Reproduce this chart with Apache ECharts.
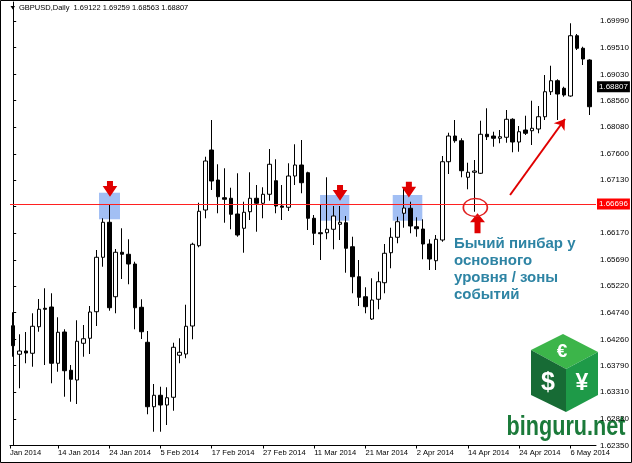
<!DOCTYPE html>
<html>
<head>
<meta charset="utf-8">
<script src="https://cdn.jsdelivr.net/npm/echarts@6/dist/echarts.min.js"></script>
<style>
html,body{margin:0;padding:0;background:#fff;}
#chart{width:632px;height:463px;}
</style>
</head>
<body>
<div id="chart"></div>
<script>
// ---- data ----
const dates = [
 '3 Jan 2014','6 Jan 2014','7 Jan 2014','8 Jan 2014','9 Jan 2014','10 Jan 2014','13 Jan 2014','14 Jan 2014','15 Jan 2014','16 Jan 2014',
 '17 Jan 2014','20 Jan 2014','21 Jan 2014','22 Jan 2014','23 Jan 2014','24 Jan 2014','27 Jan 2014','28 Jan 2014','29 Jan 2014','30 Jan 2014',
 '31 Jan 2014','3 Feb 2014','4 Feb 2014','5 Feb 2014','6 Feb 2014','7 Feb 2014','10 Feb 2014','11 Feb 2014','12 Feb 2014','13 Feb 2014',
 '14 Feb 2014','17 Feb 2014','18 Feb 2014','19 Feb 2014','20 Feb 2014','21 Feb 2014','24 Feb 2014','25 Feb 2014','26 Feb 2014','27 Feb 2014',
 '28 Feb 2014','3 Mar 2014','4 Mar 2014','5 Mar 2014','6 Mar 2014','7 Mar 2014','10 Mar 2014','11 Mar 2014','12 Mar 2014','13 Mar 2014',
 '14 Mar 2014','17 Mar 2014','18 Mar 2014','19 Mar 2014','20 Mar 2014','21 Mar 2014','24 Mar 2014','25 Mar 2014','26 Mar 2014','27 Mar 2014',
 '28 Mar 2014','31 Mar 2014','1 Apr 2014','2 Apr 2014','3 Apr 2014','4 Apr 2014','7 Apr 2014','8 Apr 2014','9 Apr 2014','10 Apr 2014',
 '11 Apr 2014','14 Apr 2014','15 Apr 2014','16 Apr 2014','17 Apr 2014','18 Apr 2014','21 Apr 2014','22 Apr 2014','23 Apr 2014','24 Apr 2014',
 '25 Apr 2014','28 Apr 2014','29 Apr 2014','30 Apr 2014','1 May 2014','2 May 2014','5 May 2014','6 May 2014','7 May 2014','8 May 2014',
 '9 May 2014'
];
const opens = [
 1.64505,1.63991,1.64050,1.64009,1.64487,1.64819,1.64842,1.63829,1.64392,1.63703,
 1.63528,1.64189,1.64279,1.64757,1.65737,1.66367,1.65027,1.65827,1.65791,1.65616,
 1.64837,1.64207,1.63047,1.63253,1.63078,1.63217,1.63973,1.63996,1.64500,1.65945,
 1.66588,1.67668,1.67128,1.66809,1.66799,1.66516,1.66259,1.66557,1.66799,1.66709,
 1.66871,1.67115,1.66660,1.66637,1.67200,1.67398,1.67259,1.66439,1.66179,1.66179,
 1.66241,1.66331,1.66359,1.65927,1.65387,1.65027,1.64626,1.64981,1.65279,1.65819,
 1.66097,1.66529,1.66619,1.66287,1.66246,1.65976,1.65675,1.66048,1.67457,1.67920,
 1.67835,1.67177,1.67267,1.67249,1.67951,1.67920,1.67879,1.67897,1.68221,1.67812,
 1.68028,1.68015,1.68046,1.68267,1.68717,1.68915,1.68779,1.68640,1.69725,1.69499,
 1.69288
];
const closes = [
 1.64145,1.64050,1.64014,1.64495,1.64801,1.64801,1.63829,1.64387,1.63695,1.63541,
 1.64225,1.64271,1.64752,1.65737,1.66367,1.64829,1.65827,1.65791,1.65616,1.64829,
 1.64397,1.63047,1.63253,1.63078,1.63209,1.64117,1.64027,1.64495,1.65971,1.66565,
 1.67470,1.67110,1.66827,1.66781,1.66511,1.66138,1.66547,1.66799,1.66709,1.66871,
 1.67411,1.66660,1.66637,1.67200,1.67398,1.67079,1.66439,1.66169,1.66161,1.66241,
 1.66480,1.66367,1.65899,1.65387,1.65017,1.64847,1.64968,1.65297,1.65809,1.66097,
 1.66377,1.66624,1.66300,1.66251,1.65976,1.65706,1.66061,1.67457,1.67920,1.67835,
 1.67295,1.67267,1.67290,1.67951,1.67907,1.67879,1.67907,1.68221,1.67812,1.67997,
 1.67969,1.68059,1.68267,1.68717,1.68915,1.68676,1.68658,1.69725,1.69499,1.69306,
 1.68447
];
const lows = [
 1.63947,1.63379,1.63829,1.63767,1.64397,1.63798,1.63469,1.63677,1.63227,1.63137,
 1.63096,1.63947,1.63996,1.64500,1.65567,1.64775,1.64729,1.65346,1.65251,1.64441,
 1.64266,1.62911,1.62597,1.62597,1.62718,1.62975,1.63829,1.63919,1.64261,1.65917,
 1.66439,1.66948,1.66529,1.66359,1.66241,1.66107,1.65819,1.66408,1.66197,1.66439,
 1.66755,1.66529,1.66408,1.66570,1.67038,1.66889,1.66228,1.65958,1.65688,1.66061,
 1.65881,1.66048,1.65459,1.65089,1.64860,1.64729,1.64608,1.64801,1.65089,1.65539,
 1.65989,1.66269,1.66169,1.66107,1.65701,1.65508,1.65508,1.66017,1.67236,1.67799,
 1.67177,1.66961,1.66557,1.67236,1.67848,1.67727,1.67789,1.67799,1.67627,1.67637,
 1.67938,1.67758,1.67969,1.68208,1.68658,1.68208,1.68627,1.68627,1.69468,1.69198,
 1.68298
];
const highs = [
 1.64747,1.64351,1.64392,1.64729,1.64986,1.65179,1.65089,1.64657,1.64441,1.63798,
 1.64603,1.64518,1.64860,1.65868,1.66439,1.66696,1.65886,1.66259,1.66061,1.65657,
 1.64981,1.64410,1.63456,1.63407,1.63397,1.64199,1.64279,1.64883,1.65999,1.66719,
 1.67547,1.68208,1.67411,1.67339,1.66989,1.67249,1.66737,1.67267,1.67038,1.66997,
 1.67686,1.67501,1.67038,1.67429,1.67771,1.67848,1.67277,1.66498,1.66691,1.67177,
 1.66660,1.66660,1.66480,1.66107,1.65688,1.65197,1.65359,1.65477,1.65976,1.66269,
 1.66467,1.66997,1.66737,1.66457,1.66421,1.66061,1.66138,1.67560,1.67979,1.68208,
 1.67879,1.67439,1.67488,1.68195,1.68419,1.67997,1.68028,1.68388,1.68239,1.68100,
 1.68285,1.68555,1.68460,1.69018,1.69185,1.68941,1.68807,1.69949,1.69756,1.69527,
 1.69301
];
const yTickValues = [1.62350,1.62830,1.63310,1.63790,1.64260,1.64740,1.65220,1.65690,1.66170,
  1.66650,1.67130,1.67600,1.68080,1.68560,1.69030,1.69510,1.69990];
const xLabelDates = ['14 Jan 2014','24 Jan 2014','5 Feb 2014','17 Feb 2014','27 Feb 2014','11 Mar 2014',
  '21 Mar 2014','2 Apr 2014','14 Apr 2014','24 Apr 2014','6 May 2014'];
const firstXLabel = 'Jan 2014';
const titleText = 'GBPUSD,Daily  1.69122 1.69259 1.68563 1.68807';
const levelPrice = 1.66696;
const bidPrice = 1.68807;
const noteLines = ['Бычий пинбар у', 'основного', 'уровня / зоны', 'событий'];
// annotation anchors in data units: [bar index, price]
const zoneBoxes = [
  [[13.4, 1.66899], [16.68, 1.66421]],
  [[47.91, 1.66858], [52.48, 1.66395]],
  [[59.26, 1.66858], [63.88, 1.66395]]
];
const downArrows = [[15.11, 1.66969], [51.03, 1.66897], [61.78, 1.66953]];
const upArrow = [72.5, 1.66349];
const pinCircle = [72.16, 1.66633];
const trendArrow = [[77.58, 1.66858], [86.16, 1.68226]];

// ---- chart ----
const xMin = -0.5, xMax = 91;
const yMin = 1.62349, yMax = 1.70332;
const candleData = dates.map((d, i) => [i, opens[i], closes[i], lows[i], highs[i]]);
const xTickValues = [xMin].concat(xLabelDates.map(d => dates.indexOf(d)));
const axisFont = 'Liberation Sans, Arial, sans-serif';

const chart = echarts.init(document.getElementById('chart'), null, {renderer: 'canvas'});
const downPath = 'path://M4.3,0 H10.3 V5 H14.6 L7.3,15.7 L0,5 H4.3 Z';
const upPath = 'path://M7.5,0 L15,9 H10.5 V20 H4.5 V9 H0 Z';
const priceTag = (bg) => ({show: true, position: 'end', distance: 1, backgroundColor: bg, color: '#fff',
  fontSize: 8, fontFamily: axisFont, padding: [2, 2, 1, 2]});

chart.setOption({
  animation: false,
  backgroundColor: '#ffffff',
  grid: {left: 10, right: 36, top: 2, bottom: 17.5, containLabel: false},
  xAxis: {
    type: 'value', min: xMin, max: xMax,
    splitLine: {show: false},
    axisLine: {show: true, onZero: false, lineStyle: {color: '#000', width: 1}},
    axisTick: {show: true, customValues: xTickValues, length: 3, lineStyle: {color: '#000'}},
    axisLabel: {
      customValues: xTickValues, align: 'left', margin: 3,
      fontSize: 7.6, color: '#000', fontFamily: axisFont,
      formatter: v => (v < 0 ? firstXLabel : dates[Math.round(v)])
    }
  },
  yAxis: {
    type: 'value', position: 'right', min: yMin, max: yMax, scale: true,
    splitLine: {show: false},
    axisLine: {show: true, lineStyle: {color: '#000', width: 1}},
    axisTick: {show: true, customValues: yTickValues, length: 3, lineStyle: {color: '#000'}},
    axisLabel: {
      customValues: yTickValues, margin: 4, fontSize: 8, color: '#000', fontFamily: axisFont,
      formatter: v => v.toFixed(5)
    }
  },
  series: [{
    type: 'candlestick',
    data: candleData,
    barWidth: 4,
    itemStyle: {color: '#ffffff', color0: '#000000', borderColor: '#000000', borderColor0: '#000000', borderWidth: 1},
    markArea: {
      silent: true,
      itemStyle: {color: 'rgba(100,149,237,0.6)'},
      data: zoneBoxes.map(b => [{coord: b[0]}, {coord: b[1]}])
    },
    markPoint: {
      silent: true,
      label: {show: false},
      data: downArrows.map(c => ({coord: c, symbol: downPath, symbolSize: [14.6, 15.7], itemStyle: {color: '#e00000'}}))
        .concat([
          {coord: upArrow, symbol: upPath, symbolSize: [15, 20], itemStyle: {color: '#e00000'}},
          {coord: pinCircle, symbol: 'circle', symbolSize: [24, 18],
           itemStyle: {color: 'rgba(0,0,0,0)', borderColor: '#e02020', borderWidth: 1.5}}
        ])
    },
    markLine: {
      silent: true,
      symbol: ['none', 'none'],
      data: [
        [{coord: [xMin, levelPrice], lineStyle: {color: '#ff2020', width: 1, type: 'solid'},
          label: Object.assign(priceTag('#ff0000'), {formatter: () => levelPrice.toFixed(5)})},
         {coord: [xMax, levelPrice]}],
        [{coord: [xMin, bidPrice], lineStyle: {color: 'rgba(0,0,0,0)', width: 1, type: 'solid'},
          label: Object.assign(priceTag('#000000'), {formatter: () => bidPrice.toFixed(5)})},
         {coord: [xMax, bidPrice]}],
        [{coord: trendArrow[0], symbol: 'none', lineStyle: {color: '#e00000', width: 2, type: 'solid'}, label: {show: false}},
         {coord: trendArrow[1], symbol: 'arrow', symbolSize: 10}]
      ]
    }
  }],
  graphic: [
    {type: 'rect', shape: {x: 0.5, y: 0.5, width: 631, height: 462}, style: {fill: 'none', stroke: '#000', lineWidth: 1}, silent: true},
    {type: 'polygon', shape: {points: [[10.5, 6], [15, 6], [12.75, 9.5]]}, style: {fill: '#000'}},
    {type: 'text', x: 19, y: 8, style: {text: titleText, fill: '#000', font: '7.5px Liberation Sans, Arial, sans-serif', verticalAlign: 'middle'}},
    {type: 'text', x: 454, y: 236, style: {text: noteLines.join('\n'), fill: '#2e84a4',
      font: 'bold 15px Liberation Sans, Arial, sans-serif', lineHeight: 16.7, verticalAlign: 'top'}},
    // binguru.net watermark
    {type: 'polygon', shape: {points: [[563, 334], [598, 352], [566, 369], [531, 350]]}, style: {fill: '#3cb54a'}},
    {type: 'polygon', shape: {points: [[531, 350], [566, 369], [566, 412], [531, 395]]}, style: {fill: '#176b35'}},
    {type: 'polygon', shape: {points: [[566, 369], [598, 352], [598, 395], [566, 412]]}, style: {fill: '#1e9a48'}},
    {type: 'text', x: 562, y: 352, style: {text: '€', fill: '#fff', font: 'bold 19px Liberation Sans, Arial, sans-serif', align: 'center', verticalAlign: 'middle'}},
    {type: 'text', x: 548, y: 383, style: {text: '$', fill: '#fff', font: 'bold 25px Liberation Sans, Arial, sans-serif', align: 'center', verticalAlign: 'middle'}},
    {type: 'text', x: 582, y: 384, style: {text: '¥', fill: '#fff', font: 'bold 23px Liberation Sans, Arial, sans-serif', align: 'center', verticalAlign: 'middle'}},
    {type: 'text', x: 566, y: 428, scaleX: 0.8, style: {text: 'binguru.net', fill: '#1b7a3a', font: 'bold 27px Liberation Sans, Arial, sans-serif', align: 'center', verticalAlign: 'middle'}}
  ]
});
</script>
</body>
</html>
